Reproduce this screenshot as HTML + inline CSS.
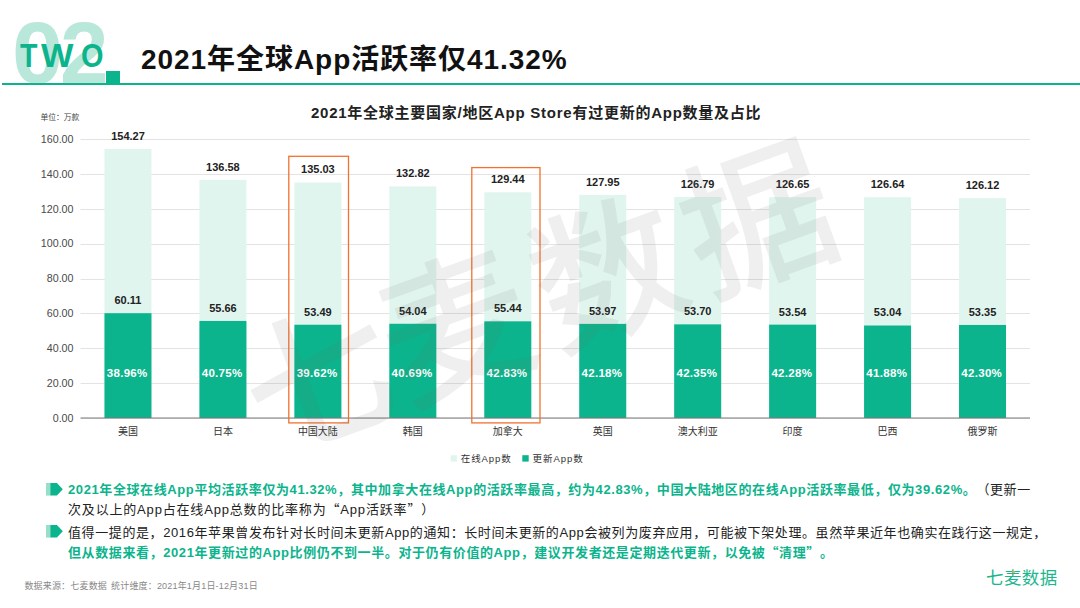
<!DOCTYPE html>
<html><head><meta charset="utf-8">
<style>
*{margin:0;padding:0;box-sizing:border-box}
html,body{width:1080px;height:608px;background:#fff;overflow:hidden}
body{text-spacing-trim:space-all;position:relative;font-family:"Liberation Sans","Noto Sans CJK SC",sans-serif;color:#222}
.abs{position:absolute;white-space:nowrap}
.big02{font:bold 87px/1 "Liberation Sans",sans-serif;color:#b9e7da;transform-origin:0 0}
.two{top:38.6px;font:bold 33px/1 "Liberation Sans",sans-serif;color:#0bb48c;transform-origin:0 0}
#sq{left:105.5px;top:70.8px;width:14px;height:13px;background:#0bb48c}
#hl{left:2px;top:83px;width:1078px;height:1.8px;background:#0bb48c}
#title{left:141px;top:46px;letter-spacing:0.95px;font:bold 28px/1 "Liberation Sans","Noto Sans CJK SC",sans-serif;color:#111}
#ctitle{left:311px;top:105px;letter-spacing:0.75px;font:bold 15px/1 "Liberation Sans","Noto Sans CJK SC",sans-serif;color:#222}
#unit{left:40.4px;top:114.3px;font:7.8px/1 "Liberation Sans","Noto Sans CJK SC",sans-serif;color:#444}
svg text{font-family:"Liberation Sans","Noto Sans CJK SC",sans-serif}
.yl{font-size:10.7px;fill:#4a4a4a;text-anchor:end}
.vl{font-size:11px;font-weight:bold;fill:#222;text-anchor:middle}
.pl{font-size:11.5px;letter-spacing:0.3px;font-weight:bold;fill:#fff;text-anchor:middle}
.cl{font-size:10px;fill:#333;text-anchor:middle}
.lg{font-size:9.5px;fill:#333;letter-spacing:0.95px}
.wm{font:500 150px/1 "Liberation Sans","Noto Sans CJK SC",sans-serif;color:rgba(110,110,110,0.11);transform:translate(-50%,-50%) rotate(-20deg)}
.txt{left:68px;font-size:13px;letter-spacing:0.6px;line-height:1;font-family:"Liberation Sans","Noto Sans CJK SC",sans-serif;color:#222}
.q{font-family:"Noto Sans CJK SC",sans-serif}
.gb{color:#0bb48c;font-weight:bold}
.bul{position:absolute;left:46px;width:17px;height:12.6px}
#foot{left:24.4px;top:582px;letter-spacing:0.18px;font:9px/1 "Liberation Sans","Noto Sans CJK SC",sans-serif;color:#888}
#logo{left:986px;top:569.7px;letter-spacing:0.4px;font:400 17.5px/1 "Liberation Sans","Noto Sans CJK SC",sans-serif;color:#1cb68e}
</style></head><body>
<div class="abs big02" style="left:12.4px;top:8.8px;transform:scaleX(1.06)">0</div><div class="abs big02" style="left:60px;top:9.4px">2</div>
<div class="abs two" style="left:19.9px;transform:scaleX(0.865)">T</div><div class="abs two" style="left:40.6px;transform:scaleX(1.04)">W</div><div class="abs two" style="left:80.6px;transform:scaleX(0.875)">O</div>
<div class="abs" id="sq"></div>
<div class="abs" id="hl"></div>
<div class="abs" id="title">2021年全球App活跃率仅41.32%</div>
<div class="abs" id="ctitle">2021年全球主要国家/地区App Store有过更新的App数量及占比</div>
<div class="abs" id="unit">单位：万款</div>
<svg class="abs" style="left:0;top:0" width="1080" height="608" viewBox="0 0 1080 608">
<rect x="80.5" y="383" width="949.50" height="1" fill="#e3e3e3"/>
<rect x="80.5" y="348" width="949.50" height="1" fill="#e3e3e3"/>
<rect x="80.5" y="313" width="949.50" height="1" fill="#e3e3e3"/>
<rect x="80.5" y="279" width="949.50" height="1" fill="#e3e3e3"/>
<rect x="80.5" y="244" width="949.50" height="1" fill="#e3e3e3"/>
<rect x="80.5" y="209" width="949.50" height="1" fill="#e3e3e3"/>
<rect x="80.5" y="174" width="949.50" height="1" fill="#e3e3e3"/>
<rect x="80.5" y="139" width="949.50" height="1" fill="#e3e3e3"/>
<text x="73.5" y="421.80" class="yl">0.00</text>
<text x="73.5" y="386.93" class="yl">20.00</text>
<text x="73.5" y="352.05" class="yl">40.00</text>
<text x="73.5" y="317.18" class="yl">60.00</text>
<text x="73.5" y="282.30" class="yl">80.00</text>
<text x="73.5" y="247.43" class="yl">100.00</text>
<text x="73.5" y="212.55" class="yl">120.00</text>
<text x="73.5" y="177.68" class="yl">140.00</text>
<text x="73.5" y="142.80" class="yl">160.00</text>
<rect x="104.47" y="148.99" width="47" height="269.01" fill="#e1f5ef"/>
<rect x="104.47" y="313.18" width="47" height="104.82" fill="#0bb48c"/>
<text x="127.97" y="139.89" class="vl">154.27</text>
<text x="127.97" y="304.08" class="vl">60.11</text>
<text x="127.17" y="377.40" class="pl">38.96%</text>
<text x="127.97" y="434.60" class="cl">美国</text>
<rect x="199.43" y="179.84" width="47" height="238.16" fill="#e1f5ef"/>
<rect x="199.43" y="320.94" width="47" height="97.06" fill="#0bb48c"/>
<text x="222.93" y="170.74" class="vl">136.58</text>
<text x="222.93" y="311.84" class="vl">55.66</text>
<text x="222.12" y="377.40" class="pl">40.75%</text>
<text x="222.93" y="434.60" class="cl">日本</text>
<rect x="294.38" y="182.54" width="47" height="235.46" fill="#e1f5ef"/>
<rect x="294.38" y="324.73" width="47" height="93.27" fill="#0bb48c"/>
<text x="317.88" y="173.44" class="vl">135.03</text>
<text x="317.88" y="315.63" class="vl">53.49</text>
<text x="317.07" y="377.40" class="pl">39.62%</text>
<text x="317.88" y="434.60" class="cl">中国大陆</text>
<rect x="389.32" y="186.40" width="47" height="231.60" fill="#e1f5ef"/>
<rect x="389.32" y="323.77" width="47" height="94.23" fill="#0bb48c"/>
<text x="412.82" y="177.30" class="vl">132.82</text>
<text x="412.82" y="314.67" class="vl">54.04</text>
<text x="412.02" y="377.40" class="pl">40.69%</text>
<text x="412.82" y="434.60" class="cl">韩国</text>
<rect x="484.28" y="192.29" width="47" height="225.71" fill="#e1f5ef"/>
<rect x="484.28" y="321.33" width="47" height="96.67" fill="#0bb48c"/>
<text x="507.78" y="183.19" class="vl">129.44</text>
<text x="507.78" y="312.23" class="vl">55.44</text>
<text x="506.98" y="377.40" class="pl">42.83%</text>
<text x="507.78" y="434.60" class="cl">加拿大</text>
<rect x="579.23" y="194.89" width="47" height="223.11" fill="#e1f5ef"/>
<rect x="579.23" y="323.89" width="47" height="94.11" fill="#0bb48c"/>
<text x="602.73" y="185.79" class="vl">127.95</text>
<text x="602.73" y="314.79" class="vl">53.97</text>
<text x="601.93" y="377.40" class="pl">42.18%</text>
<text x="602.73" y="434.60" class="cl">英国</text>
<rect x="674.18" y="196.91" width="47" height="221.09" fill="#e1f5ef"/>
<rect x="674.18" y="324.36" width="47" height="93.64" fill="#0bb48c"/>
<text x="697.68" y="187.81" class="vl">126.79</text>
<text x="697.68" y="315.26" class="vl">53.70</text>
<text x="696.88" y="377.40" class="pl">42.35%</text>
<text x="697.68" y="434.60" class="cl">澳大利亚</text>
<rect x="769.12" y="197.15" width="47" height="220.85" fill="#e1f5ef"/>
<rect x="769.12" y="324.64" width="47" height="93.36" fill="#0bb48c"/>
<text x="792.62" y="188.05" class="vl">126.65</text>
<text x="792.62" y="315.54" class="vl">53.54</text>
<text x="791.83" y="377.40" class="pl">42.28%</text>
<text x="792.62" y="434.60" class="cl">印度</text>
<rect x="864.08" y="197.17" width="47" height="220.83" fill="#e1f5ef"/>
<rect x="864.08" y="325.51" width="47" height="92.49" fill="#0bb48c"/>
<text x="887.58" y="188.07" class="vl">126.64</text>
<text x="887.58" y="316.41" class="vl">53.04</text>
<text x="886.78" y="377.40" class="pl">41.88%</text>
<text x="887.58" y="434.60" class="cl">巴西</text>
<rect x="959.02" y="198.08" width="47" height="219.92" fill="#e1f5ef"/>
<rect x="959.02" y="324.97" width="47" height="93.03" fill="#0bb48c"/>
<text x="982.52" y="188.98" class="vl">126.12</text>
<text x="982.52" y="315.87" class="vl">53.35</text>
<text x="981.73" y="377.40" class="pl">42.30%</text>
<text x="982.52" y="434.60" class="cl">俄罗斯</text>
<rect x="80.5" y="417.50" width="949.50" height="1.1" fill="#7a7a7a"/>
<rect x="288.8" y="156.3" width="59.7" height="266.6" fill="none" stroke="#f2712f" stroke-width="1.3"/>
<rect x="471.8" y="167.6" width="68.2" height="255.3" fill="none" stroke="#f2712f" stroke-width="1.3"/>
<rect x="450.7" y="455.2" width="6.2" height="6.4" fill="#e1f5ef"/>
<text x="460.7" y="461.5" class="lg">在线App数</text>
<rect x="522.3" y="455.2" width="6.4" height="6.4" fill="#0bb48c"/>
<text x="532.6" y="461.5" class="lg">更新App数</text>
</svg>
<div class="abs wm" style="left:320px;top:382px">七</div><div class="abs wm" style="left:457px;top:330px">麦</div><div class="abs wm" style="left:609px;top:276px">数</div><div class="abs wm" style="left:759px;top:222px">据</div>
<svg class="bul" style="top:483.2px" viewBox="0 0 17 12.6"><rect x="0" y="0" width="4.4" height="12.6" fill="#97dfc9"/><path d="M4.3 0H10.9L16.8 6.3L10.9 12.6H4.3Z" fill="#0bb48c"/></svg>
<svg class="bul" style="top:525.3px" viewBox="0 0 17 12.6"><rect x="0" y="0" width="4.4" height="12.6" fill="#97dfc9"/><path d="M4.3 0H10.9L16.8 6.3L10.9 12.6H4.3Z" fill="#0bb48c"/></svg>
<div class="abs txt" style="top:483px"><span class="gb">2021年全球在线App平均活跃率仅为41.32%，其中加拿大在线App的活跃率最高，约为42.83%，中国大陆地区的在线App活跃率最低，仅为39.62%。</span>（更新一</div>
<div class="abs txt" style="top:502.4px;letter-spacing:0.82px">次及以上的App占在线App总数的比率称为<span class="q">“</span>App活跃率<span class="q">”</span>）</div>
<div class="abs txt" style="top:525.7px">值得一提的是，2016年苹果曾发布针对长时间未更新App的通知：长时间未更新的App会被列为废弃应用，可能被下架处理。虽然苹果近年也确实在践行这一规定，</div>
<div class="abs txt gb" style="top:545.3px">但从数据来看，2021年更新过的App比例仍不到一半。对于仍有价值的App，建议开发者还是定期迭代更新，以免被<span class="q">“</span>清理<span class="q">”</span>。</div>
<div class="abs" id="foot">数据来源：七麦数据<span style="display:inline-block;width:4px"></span>统计维度：2021年1月1日-12月31日</div>
<div class="abs" id="logo">七麦数据</div>
<div class="abs" style="left:1012px;top:570.6px;width:3px;height:2.6px;border-radius:1px;background:#f4a24c"></div>
</body></html>
